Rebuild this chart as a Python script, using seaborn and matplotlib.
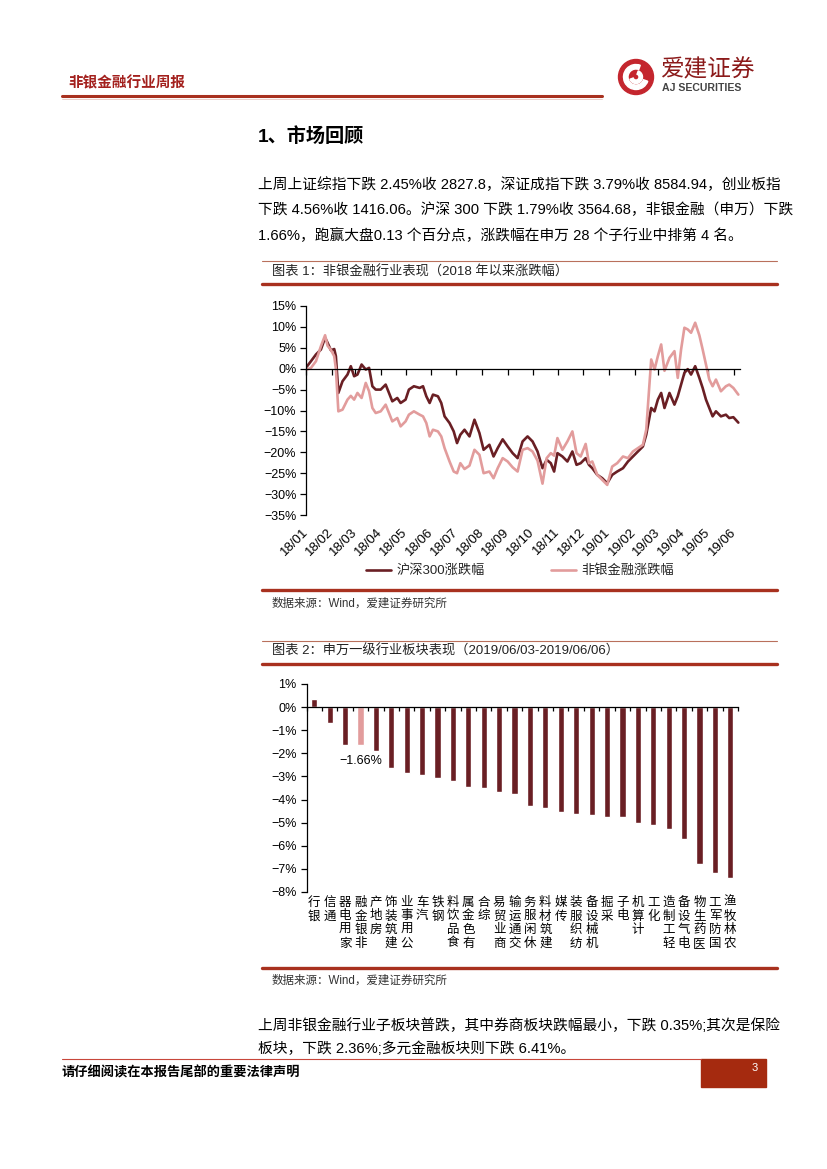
import numpy as np
import pandas as pd
import matplotlib
matplotlib.use("Agg")
import matplotlib.pyplot as plt
import matplotlib.dates as mdates
from matplotlib.lines import Line2D
from matplotlib.patches import Rectangle, Circle, Wedge
import seaborn as sns

sns.set_theme(style="white")
plt.rcParams["font.family"] = ["Liberation Sans", "Noto Sans CJK SC", "DejaVu Sans"]
plt.rcParams["axes.unicode_minus"] = True

# ---------------- data ----------------
line_dates = [
    "2018-01-02", "2018-01-07", "2018-01-13", "2018-01-19", "2018-01-24", "2018-01-27",
    "2018-01-31", "2018-02-04", "2018-02-06", "2018-02-09", "2018-02-14", "2018-02-20",
    "2018-02-24", "2018-02-28", "2018-03-04", "2018-03-09", "2018-03-14", "2018-03-18",
    "2018-03-22", "2018-03-26", "2018-04-01", "2018-04-07", "2018-04-11", "2018-04-15",
    "2018-04-21", "2018-04-25", "2018-05-01", "2018-05-05", "2018-05-11", "2018-05-18",
    "2018-05-22", "2018-05-26", "2018-05-30", "2018-06-03", "2018-06-09", "2018-06-13",
    "2018-06-17", "2018-06-23", "2018-06-28", "2018-07-02", "2018-07-06", "2018-07-11",
    "2018-07-17", "2018-07-23", "2018-07-29", "2018-08-03", "2018-08-10", "2018-08-15",
    "2018-08-20", "2018-08-26", "2018-09-01", "2018-09-07", "2018-09-13", "2018-09-19",
    "2018-09-25", "2018-10-01", "2018-10-07", "2018-10-13", "2018-10-18", "2018-10-23",
    "2018-10-27", "2018-10-31", "2018-11-06", "2018-11-12", "2018-11-18", "2018-11-23",
    "2018-11-28", "2018-12-04", "2018-12-08", "2018-12-12", "2018-12-18", "2018-12-24",
    "2018-12-30", "2019-01-05", "2019-01-11", "2019-01-18", "2019-01-24", "2019-01-30",
    "2019-02-05", "2019-02-11", "2019-02-15", "2019-02-21", "2019-02-25", "2019-03-01",
    "2019-03-05", "2019-03-09", "2019-03-15", "2019-03-21", "2019-03-25", "2019-03-29",
    "2019-04-02", "2019-04-06", "2019-04-10", "2019-04-15", "2019-04-20", "2019-04-24",
    "2019-04-28", "2019-05-02", "2019-05-06", "2019-05-10", "2019-05-16", "2019-05-22",
    "2019-05-26", "2019-05-31", "2019-06-06",
]
hs300_pct = [
    0.5, 1.8, 3.4, 4.6, 7.4, 6.2, 4.4, 4.7, 3.0, -5.8, -3.0, -1.4,
    0.6, -1.8, -1.4, 1.0, -0.2, 0.2, -4.2, -5.0, -5.0, -3.8, -5.8, -7.8,
    -7.0, -8.2, -7.4, -5.0, -4.2, -4.6, -4.2, -6.6, -8.2, -6.2, -6.6, -8.2,
    -11.4, -13.0, -15.0, -17.8, -15.8, -14.6, -16.2, -12.2, -15.4, -19.4, -18.2, -21.0,
    -19.0, -16.9, -18.6, -20.2, -21.4, -17.4, -16.2, -17.4, -19.8, -23.8, -21.8, -22.6,
    -24.6, -20.2, -21.0, -22.2, -19.8, -23.0, -22.6, -21.4, -23.0, -23.8, -25.4, -26.2,
    -27.4, -25.4, -24.6, -23.8, -22.2, -21.0, -19.8, -18.6, -15.8, -9.4, -10.2, -7.4,
    -5.8, -9.4, -5.8, -8.6, -6.6, -3.8, -1.0, -0.1, -1.4, 0.6, -2.2, -4.6,
    -7.4, -9.4, -11.4, -10.2, -11.4, -11.0, -11.8, -11.6, -12.9,
]
nonbank_pct = [
    -0.2, 0.2, 1.8, 5.4, 8.0, 5.5, 4.5, 3.0, 0.0, -10.2, -9.8, -7.4,
    -6.5, -7.4, -5.8, -7.0, -3.4, -5.4, -9.4, -10.6, -10.2, -8.6, -10.6, -12.6,
    -11.8, -13.8, -12.6, -11.0, -10.2, -11.0, -11.4, -13.0, -16.2, -14.6, -15.0, -16.2,
    -19.0, -22.2, -24.6, -25.0, -22.6, -24.0, -23.2, -19.4, -20.6, -25.0, -24.6, -26.2,
    -23.8, -21.4, -22.2, -23.6, -24.6, -19.4, -19.0, -19.8, -22.0, -27.5, -21.4, -20.2,
    -20.8, -16.6, -19.4, -17.4, -15.0, -20.2, -21.0, -18.0, -22.6, -22.2, -25.4, -26.6,
    -27.8, -23.4, -22.6, -21.0, -21.4, -19.8, -19.0, -18.2, -14.6, 2.2, -0.2, 3.0,
    5.8, -0.5, 2.6, 4.2, -2.2, 4.6, 9.8, 9.4, 8.6, 11.0, 8.0, 4.6,
    1.0, -2.6, -4.2, -2.6, -5.4, -4.2, -3.8, -4.6, -6.2,
]
series_names = ["沪深300涨跌幅", "非银金融涨跌幅"]
month_ticks = pd.date_range("2018-01-01", "2019-06-01", freq="MS")

bar_categories = [
    "银行", "通信", "家用电器", "非银金融", "房地产", "建筑装饰", "公用事业", "汽车",
    "钢铁", "食品饮料", "有色金属", "综合", "商业贸易", "交通运输", "休闲服务", "建筑材料",
    "传媒", "纺织服装", "机械设备", "采掘", "电子", "计算机", "化工", "轻工制造",
    "电气设备", "医药生物", "国防军工", "农林牧渔",
]
bar_values = [
    0.37, -0.67, -1.66, -1.66, -1.91, -2.62, -2.87, -2.92,
    -3.06, -3.19, -3.46, -3.51, -3.66, -3.77, -4.28, -4.38,
    -4.55, -4.62, -4.67, -4.75, -4.75, -5.03, -5.08, -5.28,
    -5.69, -6.81, -7.18, -7.40,
]
highlight = "非银金融"

# ---------------- styles ----------------
DARK = "#6a1f24"
PINK = "#e29c9c"
BRICK = "#a8311f"
THIN = "#b9705c"

W, H = 827, 1169
fig = plt.figure(figsize=(W / 100, H / 100), dpi=100)
fig.patch.set_facecolor("white")


def rect(x0, y0, x1, y1):
    return [x0 / W, 1 - y1 / H, (x1 - x0) / W, (y1 - y0) / H]


def ftext(x, y, s, **kw):
    kw.setdefault("va", "center")
    kw.setdefault("ha", "left")
    return fig.text(x / W, 1 - y / H, s, **kw)


def hline(x0, x1, y, **kw):
    fig.add_artist(Line2D([x0 / W, x1 / W], [1 - y / H, 1 - y / H], **kw))


# ---------------- header ----------------
ftext(68, 83, "非银金融行业周报", fontsize=10.5, fontweight="bold", color="#a3201d")
hline(62, 602, 96, color=BRICK, lw=2.2)
hline(62, 602, 98.5, color="#e8c8c0", lw=0.6)

logo = fig.add_axes(rect(617, 58, 655, 96))
logo.set_xlim(0, 38)
logo.set_ylim(0, 38)
logo.set_aspect("equal")
logo.axis("off")
logo.add_patch(Circle((19, 19), 17.5, color="#c4262e"))
logo.add_patch(Wedge((19, 19), 12.5, 70, 340, width=4.5, color="white"))
logo.add_patch(Wedge((19, 19), 6.5, 200, 70, width=3.5, color="white"))
ftext(661, 70, "爱建证券", fontsize=17, color="#8b1a1a")
ftext(662, 88, "AJ SECURITIES", fontsize=7.6, fontweight="bold", color="#444444")

# ---------------- section 1 text ----------------
ftext(258, 137, "1、市场回顾", fontsize=13.8, fontweight="bold", color="black")
para = [
    "上周上证综指下跌 2.45%收 2827.8，深证成指下跌 3.79%收 8584.94，创业板指",
    "下跌 4.56%收 1416.06。沪深 300 下跌 1.79%收 3564.68，非银金融（申万）下跌",
    "1.66%，跑赢大盘0.13 个百分点，涨跌幅在申万 28 个子行业中排第 4 名。",
]
for i, s in enumerate(para):
    ftext(258, 185 + 25 * i, s, fontsize=10.6, color="black")

# ---------------- chart 1 ----------------
hline(262, 777, 261, color=THIN, lw=0.8)
ftext(272, 272, "图表 1：非银金融行业表现（2018 年以来涨跌幅）", fontsize=9.5, color="#222222")
hline(262, 777, 284, color=BRICK, lw=2.4)

ax1 = fig.add_axes(rect(306, 306, 740, 515))
df1 = pd.DataFrame({
    "date": pd.to_datetime(line_dates * 2),
    "value": hs300_pct + nonbank_pct,
    "series": [series_names[0]] * len(line_dates) + [series_names[1]] * len(line_dates),
})
sns.lineplot(data=df1, x="date", y="value", hue="series", hue_order=series_names,
             palette={series_names[0]: DARK, series_names[1]: PINK},
             linewidth=1.9, ax=ax1, legend=False)
ax1.set_xlim(pd.Timestamp("2018-01-01"), pd.Timestamp("2019-06-08"))
ax1.set_ylim(-35, 15)
ax1.set_xlabel("")
ax1.set_ylabel("")
ax1.set_facecolor("white")
for sp in ["top", "right"]:
    ax1.spines[sp].set_visible(False)
ax1.spines["left"].set_color("black")
ax1.spines["left"].set_linewidth(0.9)
ax1.spines["bottom"].set_position(("data", 0))
ax1.spines["bottom"].set_color("black")
ax1.spines["bottom"].set_linewidth(0.9)
ax1.set_xticks(mdates.date2num(month_ticks))
ax1.tick_params(axis="x", length=4, width=0.9, direction="out", color="black",
                bottom=True, labelbottom=False)
yt = np.arange(-35, 16, 5)
ax1.set_yticks(yt)
ax1.set_yticklabels([f"{v}%".replace("-", "\u2212") for v in yt])
ax1.tick_params(axis="y", length=4, width=0.9, direction="out", color="black",
                left=True, labelsize=9, pad=3, labelcolor="black")
ax1.grid(False)

sec1 = ax1.secondary_xaxis("bottom")
sec1.set_xticks(mdates.date2num(month_ticks),
                labels=[d.strftime("%y/%m") for d in month_ticks])
sec1.tick_params(length=0, pad=11, labelsize=9.5, labelcolor="black")
sec1.spines["bottom"].set_visible(False)
for lb in sec1.get_xticklabels():
    lb.set_rotation(45)
    lb.set_ha("right")
    lb.set_va("center")
    lb.set_rotation_mode("anchor")

handles = [Line2D([], [], color=DARK, lw=1.9), Line2D([], [], color=PINK, lw=1.9)]
fig.legend(handles, series_names, loc="center", bbox_to_anchor=(520 / W, 1 - 571 / H),
           ncol=2, frameon=False, fontsize=9.5, handlelength=1.9, handletextpad=0.4,
           columnspacing=5.0)

hline(262, 777, 590, color=BRICK, lw=2.4)
ftext(272, 604, "数据来源：Wind，爱建证券研究所", fontsize=8.3, color="#333333")

# ---------------- chart 2 ----------------
hline(262, 777, 641, color=THIN, lw=0.8)
ftext(272, 651, "图表 2：申万一级行业板块表现（2019/06/03-2019/06/06）", fontsize=9.5, color="#222222")
hline(262, 777, 664, color=BRICK, lw=2.4)

ax2 = fig.add_axes(rect(306.5, 684, 738, 892))
df2 = pd.DataFrame({
    "industry": bar_categories,
    "change": bar_values,
    "group": ["hl" if c == highlight else "base" for c in bar_categories],
})
sns.barplot(data=df2, x="industry", y="change", hue="group", order=bar_categories,
            palette={"hl": PINK, "base": DARK}, dodge=False, width=0.4,
            saturation=1, legend=False, ax=ax2)
ax2.set_xlim(-0.5, len(bar_categories) - 0.5)
ax2.set_ylim(-8, 1)
ax2.set_xlabel("")
ax2.set_ylabel("")
ax2.set_facecolor("white")
for sp in ["top", "right"]:
    ax2.spines[sp].set_visible(False)
ax2.spines["left"].set_color("black")
ax2.spines["left"].set_linewidth(0.9)
ax2.spines["bottom"].set_position(("data", 0))
ax2.spines["bottom"].set_color("black")
ax2.spines["bottom"].set_linewidth(0.9)
ax2.set_xticks(np.arange(-0.5, len(bar_categories), 1.0))
ax2.tick_params(axis="x", length=3, width=0.9, direction="out", color="black",
                bottom=True, labelbottom=False)
yt2 = np.arange(-8, 2, 1)
ax2.set_yticks(yt2)
ax2.set_yticklabels([f"{v}%".replace("-", "\u2212") for v in yt2])
ax2.tick_params(axis="y", length=4, width=0.9, direction="out", color="black",
                left=True, labelsize=9, pad=3, labelcolor="black")
ax2.grid(False)

sec2 = ax2.secondary_xaxis("bottom")
sec2.set_xticks(np.arange(len(bar_categories)),
                labels=["\n".join(reversed(c)) for c in bar_categories])
sec2.tick_params(length=0, pad=3.5, labelsize=9, labelcolor="black")
sec2.spines["bottom"].set_visible(False)
for lb in sec2.get_xticklabels():
    lb.set_linespacing(1.18)
    lb.set_va("top")

hi = bar_categories.index(highlight)
ax2.annotate(f"{bar_values[hi]:.2f}%".replace("-", "\u2212"), xy=(hi, bar_values[hi]),
             xytext=(0, -7), textcoords="offset points", ha="center", va="top",
             fontsize=9, color="black")

hline(262, 777, 968, color=BRICK, lw=2.4)
ftext(272, 981, "数据来源：Wind，爱建证券研究所", fontsize=8.3, color="#333333")

# ---------------- bottom text ----------------
para2 = [
    "上周非银金融行业子板块普跌，其中券商板块跌幅最小，下跌 0.35%;其次是保险",
    "板块，下跌 2.36%;多元金融板块则下跌 6.41%。",
]
for i, s in enumerate(para2):
    ftext(258, 1026 + 23 * i, s, fontsize=10.6, color="black")

# ---------------- footer ----------------
hline(62, 701, 1059, color="#c8463a", lw=0.8)
fig.add_artist(Rectangle((701 / W, 1 - 1087 / H), 65 / W, 28 / H,
                         transform=fig.transFigure, color="#a52a0f"))
ftext(752, 1068, "3", fontsize=8, color="white")
ftext(62, 1073, "请仔细阅读在本报告尾部的重要法律声明", fontsize=9.5, fontweight="bold",
      color="black")

fig.savefig("out.png", dpi=100, facecolor="white")
